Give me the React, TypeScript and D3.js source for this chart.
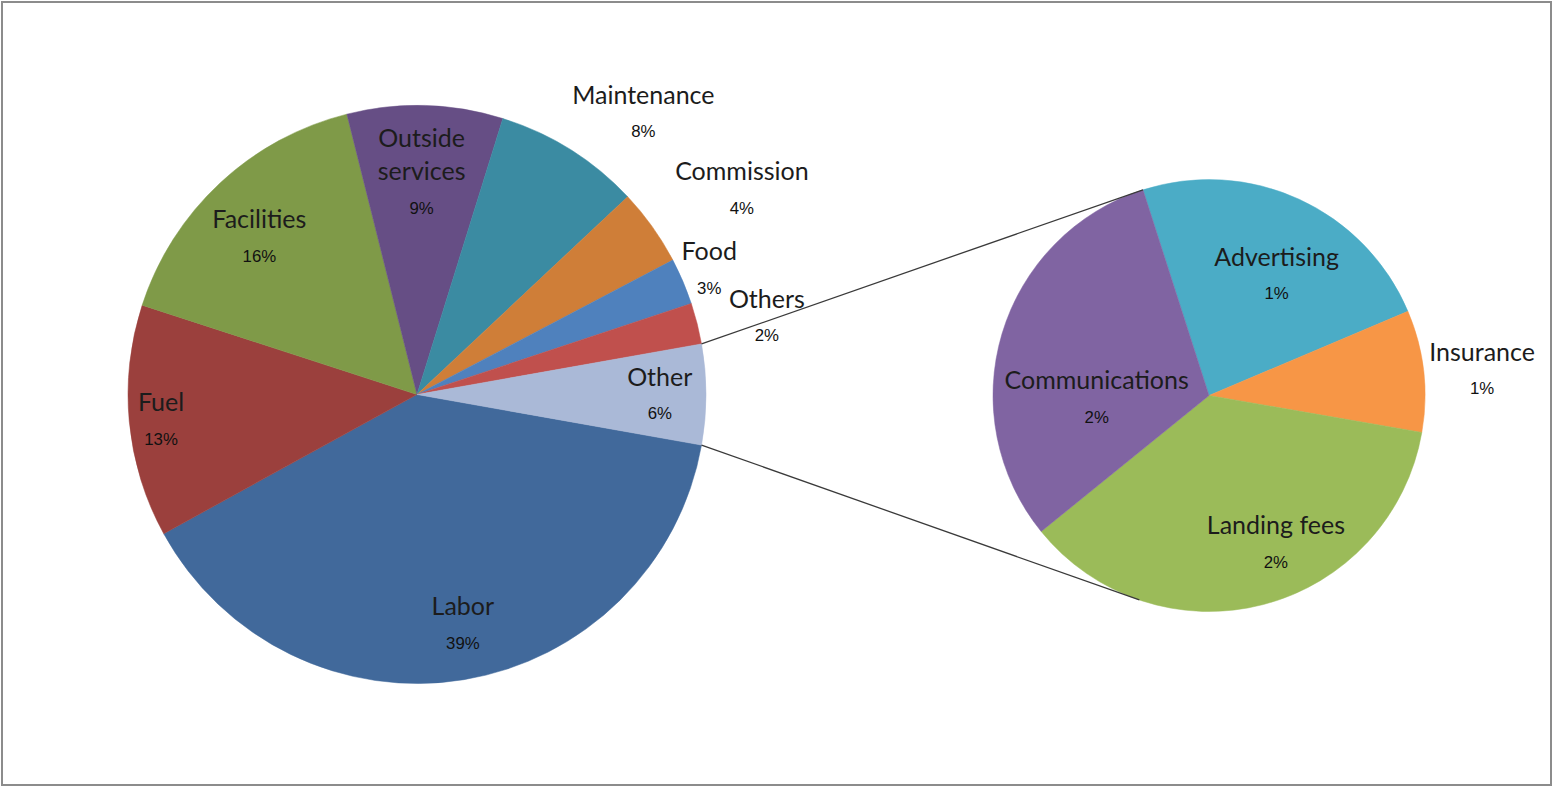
import React from "react";
import * as d3 from "d3";

// ---- data ----
const categories = ["Labor", "Fuel", "Facilities", "Outside services", "Maintenance", "Commission", "Food", "Others"];
const values = [39.2, 13.0, 16.1, 8.7, 8.2, 4.3, 2.6, 2.3];
const otherName = "Other";
const subCategories = ["Advertising", "Insurance", "Landing fees", "Communications"];
const subValues = [1.32, 0.51, 2.04, 1.73];

// ---- style ----
const mainColors = ["#41699B", "#9B403D", "#7F9A48", "#664E85", "#3B8BA2", "#CF7E38", "#4F81BD", "#C0504D", "#AAB9D7"];
const subColors = ["#4BACC6", "#F79646", "#9BBB59", "#8064A2"];
// label polar placement: [angle deg clockwise from top, radius factor]
const mainLabelPolar: [number, number][] = [
  [168.7, 0.81], [264.3, 0.89], [314.9, 0.77], [1.3, 0.711], [38.8, 1.25], [57.7, 1.33], [66.8, 1.1], [77.5, 1.24], [90, 0.84],
];
const subLabelPolar: [number, number][] = [[29.3, 0.64], [84.6, 1.27], [155.6, 0.75], [268.7, 0.52]];

const W = 1553, H = 787;
const main = { cx: 417, cy: 394.5, r: 289 };
const sub = { cx: 1209, cy: 395.5, r: 216, start: -17.8 };

const rad = (d: number) => (d * Math.PI) / 180;
const polar = (c: { cx: number; cy: number }, a: number, r: number) => [c.cx + r * Math.sin(rad(a)), c.cy - r * Math.cos(rad(a))];

export default function App() {
  const otherVal = d3.sum(subValues);
  const mainVals = [...values, otherVal];
  const mainNames = [...categories, otherName];
  const total = d3.sum(mainVals);
  const otherSpan = (otherVal / total) * 360;
  const startDeg = 90 + otherSpan / 2;
  const mainArcs = d3.pie<number>().sort(null).startAngle(rad(startDeg)).endAngle(rad(startDeg + 360))(mainVals);
  const subArcs = d3.pie<number>().sort(null).startAngle(rad(sub.start)).endAngle(rad(sub.start + 360))(subValues);
  const arcMain = d3.arc<d3.PieArcDatum<number>>().innerRadius(0).outerRadius(main.r);
  const arcSub = d3.arc<d3.PieArcDatum<number>>().innerRadius(0).outerRadius(sub.r);
  const pct = (v: number) => Math.round((v / total) * 100) + "%";

  const otherArc = mainArcs[mainArcs.length - 1];
  const a0 = (otherArc.startAngle * 180) / Math.PI;
  const a1 = (otherArc.endAngle * 180) / Math.PI;
  const p0 = polar(main, a0, main.r);
  const p1 = polar(main, a1, main.r);
  const q0 = polar(sub, sub.start, sub.r);
  const q1 = polar(sub, 180 - sub.start + 1, sub.r);

  const nameFont = "Lato, 'Open Sans', sans-serif";
  const pctFont = "'Liberation Sans', Arial, sans-serif";

  const renderLabel = (name: string, p: string, x: number, y: number, key: string) => {
    const lines = name === "Outside services" ? ["Outside", "services"] : [name];
    const n = lines.length;
    return (
      <g key={key}>
        {lines.map((l, i) => (
          <text key={i} x={x} y={y - 19 - (n - 1 - i) * 33} textAnchor="middle" dominantBaseline="central"
            fontFamily={nameFont} fontSize={25} fill="#1c1c1c">{l}</text>
        ))}
        <text x={x} y={y + 19} textAnchor="middle" dominantBaseline="central" fontFamily={pctFont} fontSize={16.8} fill="#111">{p}</text>
      </g>
    );
  };

  return (
    <svg width={W} height={H} style={{ position: "absolute", left: 0, top: 0, background: "#fff" }}>
      <rect x={0} y={0} width={W} height={H} fill="#fff" />
      <rect x={2} y={2} width={1549} height={783} fill="none" stroke="#8c8c8c" strokeWidth={2} />
      <g transform={`translate(${main.cx},${main.cy})`}>
        {mainArcs.map((a, i) => (
          <path key={i} d={arcMain(a) || ""} fill={mainColors[i]} stroke={mainColors[i]} strokeWidth={0.5} />
        ))}
      </g>
      <g transform={`translate(${sub.cx},${sub.cy})`}>
        {subArcs.map((a, i) => (
          <path key={i} d={arcSub(a) || ""} fill={subColors[i]} stroke={subColors[i]} strokeWidth={0.5} />
        ))}
      </g>
      <line x1={p0[0]} y1={p0[1]} x2={q0[0]} y2={q0[1]} stroke="#3a3a3a" strokeWidth={1.3} />
      <line x1={p1[0]} y1={p1[1]} x2={q1[0]} y2={q1[1]} stroke="#3a3a3a" strokeWidth={1.3} />
      {mainVals.map((v, i) => {
        const [ang, rf] = mainLabelPolar[i];
        const [x, y] = polar(main, ang, main.r * rf);
        return renderLabel(mainNames[i], pct(v), x, y, "m" + i);
      })}
      {subValues.map((v, i) => {
        const [ang, rf] = subLabelPolar[i];
        const [x, y] = polar(sub, ang, sub.r * rf);
        return renderLabel(subCategories[i], pct(v), x, y, "s" + i);
      })}
    </svg>
  );
}
